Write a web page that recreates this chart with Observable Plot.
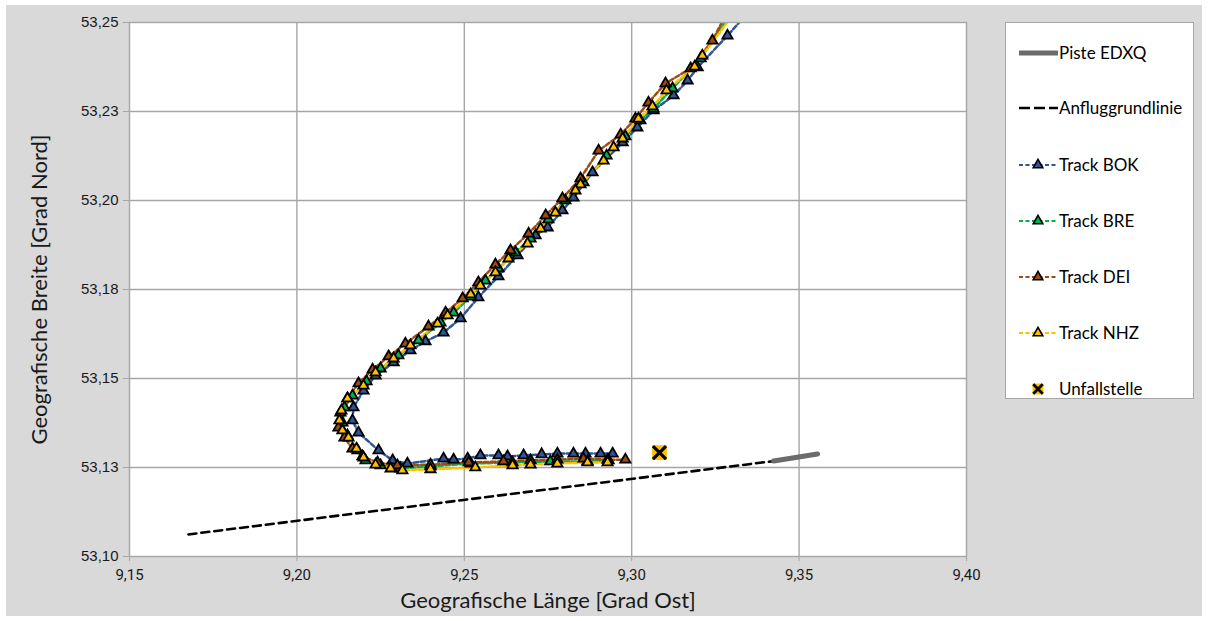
<!DOCTYPE html>
<html><head><meta charset="utf-8">
<script src="https://cdn.jsdelivr.net/npm/d3@7"></script>
<script src="https://cdn.jsdelivr.net/npm/@observablehq/plot@0.6"></script>
<style>
body{margin:0;background:#fff;width:1208px;height:621px;position:relative;overflow:hidden;font-family:Lato,sans-serif}
#bg{position:absolute;left:6px;top:5px;width:1196px;height:611px;background:#d9d9d9}
#chart{position:absolute;left:0;top:0}
#legend{position:absolute;left:1005px;top:22px;width:187px;height:375px;background:#fff;border:1.5px solid #a6a6a6}
#legend svg{overflow:visible}
</style></head><body>
<div id="bg"></div><div id="chart"></div><div id="legend"></div>
<script>
const xTicks = [9.15, 9.20, 9.25, 9.30, 9.35, 9.40];
const xTickLabels = ["9,15","9,20","9,25","9,30","9,35","9,40"];
const yTicks = [53.10, 53.125, 53.15, 53.175, 53.20, 53.225, 53.25];
const yTickLabels = ["53,10","53,13","53,15","53,18","53,20","53,23","53,25"];

const runway = [[9.3424,53.1268],[9.3555,53.1288]];
const approach = [[9.1676,53.1062],[9.3424,53.1268]];
const crash = [[9.3083,53.1292]];

const trackBOK = [[9.3340,53.2520],[9.3286,53.2463],[9.3197,53.2374],[9.3167,53.2337],[9.3125,53.2295],[9.3065,53.2253],[9.3017,53.2205],[9.2973,53.2163],[9.2883,53.2079],[9.2826,53.2008],[9.2793,53.1972],[9.2749,53.1924],[9.2713,53.1902],[9.2659,53.1846],[9.2602,53.1787],[9.2542,53.1728],[9.2489,53.1669],[9.2438,53.1629],[9.2384,53.1604],[9.2339,53.1579],[9.2289,53.1545],[9.2235,53.1508],[9.2199,53.1466],[9.2169,53.1419],[9.2166,53.1382],[9.2184,53.1348],[9.2244,53.1298],[9.2286,53.1270],[9.2330,53.1261],[9.2438,53.1275],[9.2468,53.1272],[9.2510,53.1275],[9.2548,53.1284],[9.2602,53.1284],[9.2629,53.1281],[9.2677,53.1284],[9.2731,53.1287],[9.2778,53.1289],[9.2826,53.1289],[9.2862,53.1289],[9.2907,53.1289],[9.2943,53.1289]];
const trackBRE = [[9.3292,53.2520],[9.3206,53.2399],[9.3122,53.2315],[9.3065,53.2258],[9.3026,53.2225],[9.2981,53.2180],[9.2925,53.2126],[9.2856,53.2051],[9.2802,53.2000],[9.2751,53.1947],[9.2698,53.1893],[9.2653,53.1854],[9.2602,53.1809],[9.2563,53.1775],[9.2519,53.1730],[9.2468,53.1685],[9.2429,53.1657],[9.2363,53.1607],[9.2303,53.1565],[9.2250,53.1528],[9.2208,53.1492],[9.2166,53.1452],[9.2142,53.1419],[9.2136,53.1376],[9.2151,53.1340],[9.2181,53.1298],[9.2205,53.1270],[9.2250,53.1256],[9.2309,53.1247],[9.2399,53.1253],[9.2519,53.1261],[9.2644,53.1264],[9.2757,53.1267],[9.2868,53.1267],[9.2931,53.1270]];
const trackDEI = [[9.3280,53.2520],[9.3241,53.2449],[9.3176,53.2371],[9.3101,53.2329],[9.3050,53.2275],[9.3011,53.2230],[9.2967,53.2185],[9.2901,53.2140],[9.2847,53.2062],[9.2793,53.2006],[9.2743,53.1958],[9.2692,53.1907],[9.2638,53.1860],[9.2593,53.1820],[9.2542,53.1770],[9.2495,53.1725],[9.2444,53.1685],[9.2393,53.1646],[9.2324,53.1598],[9.2274,53.1562],[9.2226,53.1525],[9.2184,53.1486],[9.2151,53.1444],[9.2130,53.1404],[9.2124,53.1362],[9.2142,53.1334],[9.2166,53.1303],[9.2196,53.1281],[9.2241,53.1264],[9.2300,53.1256],[9.2399,53.1258],[9.2513,53.1264],[9.2617,53.1267],[9.2698,53.1270],[9.2778,53.1272],[9.2856,53.1275],[9.2928,53.1272],[9.2981,53.1272]];
const trackNHZ = [[9.3301,53.2520],[9.3211,53.2407],[9.3188,53.2376],[9.3104,53.2309],[9.3062,53.2264],[9.3020,53.2230],[9.2973,53.2174],[9.2946,53.2149],[9.2916,53.2112],[9.2847,53.2045],[9.2832,53.2028],[9.2772,53.1966],[9.2728,53.1921],[9.2689,53.1879],[9.2632,53.1837],[9.2593,53.1798],[9.2548,53.1761],[9.2519,53.1736],[9.2450,53.1677],[9.2420,53.1654],[9.2339,53.1593],[9.2289,53.1556],[9.2235,53.1517],[9.2199,53.1480],[9.2151,53.1444],[9.2133,53.1410],[9.2127,53.1382],[9.2136,53.1354],[9.2154,53.1334],[9.2178,53.1303],[9.2199,53.1278],[9.2235,53.1258],[9.2280,53.1247],[9.2315,53.1242],[9.2399,53.1245],[9.2533,53.1250],[9.2644,53.1256],[9.2698,53.1258],[9.2778,53.1261],[9.2868,53.1264],[9.2928,53.1264]];

const trackNames = ["Track BOK","Track BRE","Track DEI","Track NHZ"];
const trackColors = ["#2f5597","#00b050","#9e4a12","#ffc000"];
const legendLabels = ["Piste EDXQ","Anfluggrundlinie","Track BOK","Track BRE","Track DEI","Track NHZ","Unfallstelle"];

const tracks = [trackBOK, trackBRE, trackDEI, trackNHZ];
const X = d => d[0], Y = d => d[1];

const trackMarks = [];
tracks.forEach((t, i) => {
  trackMarks.push(Plot.line(t, {x: X, y: Y, stroke: trackColors[i], strokeWidth: 2.5, strokeDasharray: "4.5,2.5", clip: true}));
});
tracks.forEach((t, i) => {
  trackMarks.push(Plot.dot(t, {x: X, y: Y, symbol: "triangle", r: 3.8, fill: trackColors[i], stroke: "black", strokeWidth: 1.8, clip: true}));
});

const chart = Plot.plot({
  width: 1208, height: 621,
  marginLeft: 129, marginRight: 242, marginTop: 22, marginBottom: 65,
  style: {background: "transparent", fontFamily: "Liberation Sans, Arial, sans-serif"},
  x: {domain: [9.15, 9.40], axis: null},
  y: {domain: [53.10, 53.25], axis: null},
  marks: [
    Plot.frame({fill: "white", stroke: null}),
    Plot.gridX(xTicks.slice(1, -1), {stroke: "#a6a6a6", strokeOpacity: 1, strokeWidth: 1.4}),
    Plot.gridY(yTicks.slice(1, -1), {stroke: "#a6a6a6", strokeOpacity: 1, strokeWidth: 1.4}),
    Plot.line(approach, {x: X, y: Y, stroke: "black", strokeWidth: 2.6, strokeDasharray: "8,5"}),
    Plot.line(runway, {x: X, y: Y, stroke: "#6b6b6b", strokeWidth: 5}),
    ...trackMarks,
    Plot.dot(crash, {x: X, y: Y, symbol: "square", r: 8.3, fill: "#ffc000"}),
    Plot.dot(crash, {x: X, y: Y, symbol: "times", r: 6, stroke: "black", strokeWidth: 3.2}),
    Plot.frame({stroke: "#a6a6a6", strokeWidth: 1.4}),
    Plot.axisY(yTicks, {tickFormat: () => "", tickSize: 6, stroke: "#a6a6a6", label: null}),
    Plot.axisX(xTicks, {tickFormat: () => "", tickSize: 5, stroke: "#a6a6a6", label: null}),
    Plot.text(yTicks, {x: 9.15, y: d => d, text: (d, i) => yTickLabels[i], textAnchor: "end", dx: -11, fontSize: 15, fontFamily: "Liberation Sans, Arial, sans-serif", fill: "#1a1a1a"}),
    Plot.text(xTicks, {x: d => d, y: 53.10, text: (d, i) => xTickLabels[i], dy: 19, fontSize: 15, fontFamily: "Liberation Sans Narrow, Roboto, sans-serif", fill: "#1a1a1a"}),
    Plot.text(["Geografische Breite [Grad Nord]"], {frameAnchor: "left", dx: -90, rotate: -90, textAnchor: "middle", text: d => d, fontSize: 22, fontFamily: "Lato, sans-serif", fill: "#1a1a1a"}),
    Plot.text(["Geografische Länge [Grad Ost]"], {frameAnchor: "bottom", dy: 51, textAnchor: "middle", text: d => d, fontSize: 22, fontFamily: "Lato, sans-serif", fill: "#1a1a1a"})
  ]
});
document.getElementById("chart").appendChild(chart);

// Legend
const lg = d3.select("#legend").append("svg").attr("width", 187).attr("height", 375)
  .style("font-family", "Lato, sans-serif").style("font-size", "17px");
const rowY = [30, 85, 142, 198, 254, 310, 366];
legendLabels.forEach((lab, i) => {
  const g = lg.append("g").attr("transform", `translate(0,${rowY[i]})`);
  if (i === 0) {
    g.append("line").attr("x1", 13).attr("x2", 52).attr("stroke", "#6b6b6b").attr("stroke-width", 5);
  } else if (i === 1) {
    g.append("line").attr("x1", 13).attr("x2", 52).attr("stroke", "black").attr("stroke-width", 2.5).attr("stroke-dasharray", "11,4");
  } else if (i < 6) {
    const c = trackColors[i - 2];
    g.append("line").attr("x1", 13).attr("x2", 52).attr("stroke", c).attr("stroke-width", 2.2).attr("stroke-dasharray", "4,2.5");
    g.append("path").attr("d", d3.symbol(d3.symbolTriangle, 40)()).attr("transform", "translate(32,0)")
      .attr("fill", c).attr("stroke", "black").attr("stroke-width", 1.6);
  } else {
    g.append("path").attr("d", d3.symbol(d3.symbolSquare, 120)()).attr("transform", "translate(32,0)").attr("fill", "#ffc000");
    g.append("path").attr("d", d3.symbol(d3.symbolTimes, 60)()).attr("transform", "translate(32,0)")
      .attr("fill", "none").attr("stroke", "black").attr("stroke-width", 2.8);
  }
  g.append("text").attr("x", 53).attr("y", 0).attr("dy", "0.35em").attr("fill", "#000").text(lab);
});
</script></body></html>
